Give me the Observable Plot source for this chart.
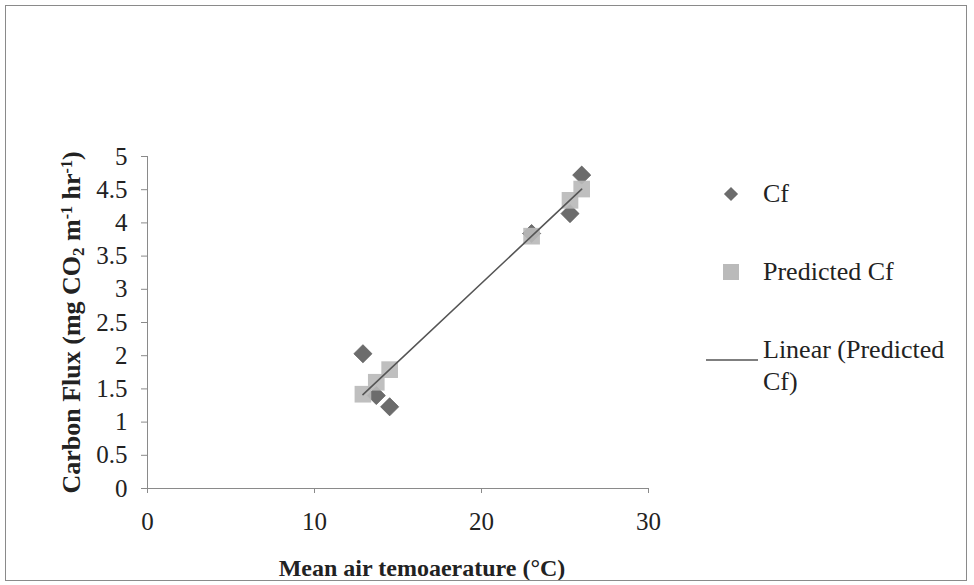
<!DOCTYPE html>
<html>
<head>
<meta charset="utf-8">
<script src="https://cdn.jsdelivr.net/npm/d3@7"></script>
<script src="https://cdn.jsdelivr.net/npm/@observablehq/plot@0.6"></script>
<style>
  body { margin: 0; background: #fff; }
  #wrap { position: relative; width: 974px; height: 585px; font-family: "Liberation Serif", "Times New Roman", serif; color: #222; }
  #frame { position: absolute; left: 5px; top: 5px; width: 962px; height: 576px; border: 1px solid #8a8a8a; box-sizing: border-box; pointer-events: none; }
  #chart { position: absolute; left: 0; top: 0; }
  .leg { position: absolute; font-size: 26px; line-height: 32px; white-space: nowrap; }
</style>
</head>
<body>
<div id="wrap">
  <div id="chart"></div>
  <div id="frame"></div>
  <div id="legend"></div>
</div>
<script>
// Data
const temperature = [12.9, 13.7, 14.5, 23.0, 25.3, 26.0];
const cf = [2.03, 1.40, 1.23, 3.84, 4.14, 4.72];
const predictedCf = [1.42, 1.60, 1.79, 3.80, 4.34, 4.51];
const xTicks = [0, 10, 20, 30];
const yTicks = [0, 0.5, 1, 1.5, 2, 2.5, 3, 3.5, 4, 4.5, 5];
const seriesNames = ["Cf", "Predicted Cf", "Linear (Predicted Cf)"];
const xTitle = "Mean air temoaerature (°C)";
const yTitle = "Carbon Flux (mg CO2 m-1 hr-1)";

const cfData = temperature.map((t, i) => ({t, v: cf[i]}));
const predData = temperature.map((t, i) => ({t, v: predictedCf[i]}));

const DIAMOND = "#6c6c6c";
const SQUARE = "#bababa";
const LINE = "#555555";
const AXIS = "#8a8a8a";

const chart = Plot.plot({
  width: 974,
  height: 585,
  marginLeft: 147,
  marginRight: 326,
  marginTop: 156,
  marginBottom: 97,
  style: {fontFamily: "Liberation Serif, Times New Roman, serif", fontSize: "25px", color: "#222", background: "transparent"},
  x: {domain: [0, 30], ticks: xTicks},
  y: {domain: [0, 5], ticks: yTicks},
  marks: [
    Plot.axisX({ticks: xTicks, tickSize: 5, tickPadding: 19, stroke: AXIS, fill: "#222", label: null, tickFormat: d => String(d), fontSize: 25}),
    Plot.axisY({ticks: yTicks, tickSize: 6, tickPadding: 14, stroke: AXIS, fill: "#222", label: null, tickFormat: d => String(d), fontSize: 25}),
    Plot.ruleX([0], {stroke: AXIS}),
    Plot.ruleY([0], {stroke: AXIS}),
    Plot.dot(cfData, {x: "t", y: "v", symbol: "square", r: 7.2, rotate: 45, fill: DIAMOND, stroke: "#5e5e5e", strokeWidth: 0.8}),
    Plot.dot(predData, {x: "t", y: "v", symbol: "square", r: 9.4, fill: SQUARE, fillOpacity: 0.92}),
    Plot.linearRegressionY(predData, {x: "t", y: "v", stroke: LINE, strokeWidth: 1.6, ci: 0}),
    Plot.text([xTitle], {frameAnchor: "bottom", dx: 24, dy: 80, text: d => d, fontWeight: "bold", fontSize: 24, fill: "#222", textAnchor: "middle", lineAnchor: "middle"}),
    Plot.text([yTitle], {frameAnchor: "left", dx: -76, rotate: -90, text: d => d, fontWeight: "bold", fontSize: 26, fill: "#222", textAnchor: "middle", lineAnchor: "middle"})
  ]
});
document.getElementById("chart").appendChild(chart);

// Rich formatting of the y title (subscript / superscripts)
d3.select(chart).selectAll("text").each(function() {
  if (this.textContent === yTitle) {
    const t = d3.select(this);
    t.text(null);
    const parts = [["Carbon Flux (mg CO", 0], ["2", 1], [" m", 0], ["-1", -1], [" hr", 0], ["-1", -1], [")", 0]];
    for (const [s, k] of parts) {
      const ts = t.append("tspan").text(s);
      if (k === 1) ts.attr("baseline-shift", "-25%").attr("font-size", 17);
      if (k === -1) ts.attr("baseline-shift", "super").attr("font-size", 16);
    }
  }
});

// Legend
const legend = document.getElementById("legend");
function item(top, label, marker) {
  const d = document.createElement("div");
  d.className = "leg";
  d.style.left = "763px";
  d.style.top = (top - 16) + "px";
  d.innerHTML = label;
  legend.appendChild(d);
  const m = document.createElement("div");
  m.style.position = "absolute";
  m.innerHTML = marker;
  legend.appendChild(m);
  return m;
}
let m1 = item(194, seriesNames[0], `<svg width="20" height="20"><rect x="5" y="5" width="10" height="10" fill="${DIAMOND}" transform="rotate(45 10 10)"/></svg>`);
m1.style.left = "721px"; m1.style.top = "184px";
let m2 = item(272, seriesNames[1], `<svg width="20" height="20"><rect x="2" y="2" width="16" height="16" fill="${SQUARE}"/></svg>`);
m2.style.left = "721px"; m2.style.top = "262px";
let m3 = item(350, "Linear (Predicted<br>Cf)", `<svg width="52" height="4"><line x1="0" y1="2" x2="52" y2="2" stroke="${LINE}" stroke-width="1.6"/></svg>`);
m3.style.left = "706px"; m3.style.top = "348px";
</script>
</body>
</html>
